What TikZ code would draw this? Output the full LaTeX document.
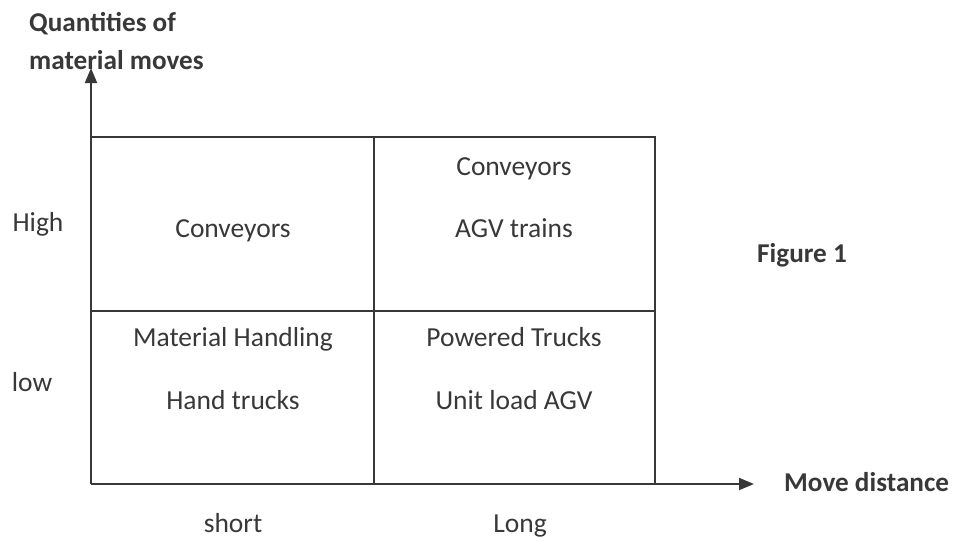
\documentclass[tikz,border=0pt]{standalone}
\usepackage{fontspec}
\setmainfont{Carlito}
\usetikzlibrary{arrows.meta}
\definecolor{ink}{HTML}{383838}
\begin{document}
\begin{tikzpicture}[x=1pt,y=-1pt,
  lbl/.style={text=ink,font=\fontsize{27.5}{31}\selectfont,anchor=base,inner sep=0pt},
  blbl/.style={lbl,font=\fontsize{27.2}{31}\selectfont\bfseries},
  gridline/.style={draw=ink,line width=1.8pt},
  axis/.style={draw=ink,line width=1.8pt,-{Triangle[length=15pt,width=12pt]}}]
\useasboundingbox (0,0) rectangle (955,541);
% grid
\coordinate (o) at (91,484);
\coordinate (ytip) at (91,68);
\coordinate (xtip) at (754,484);
\coordinate (tl) at (91,137);
\coordinate (tr) at (655,137);
\coordinate (br) at (655,484);
\coordinate (tm) at (374,137);
\coordinate (bm) at (374,484);
\coordinate (ml) at (91,311);
\coordinate (mr) at (655,311);
\draw[gridline] (tl) -- (tr) -- (br);
\draw[gridline] (tm) -- (bm);
\draw[gridline] (ml) -- (mr);
\draw[axis] (o) -- (ytip);
\draw[axis] (o) -- (xtip);
% labels
\node[blbl,anchor=base west] (q1) at (29,31) {Quantities of};
\node[blbl,anchor=base west] (q2) at (29,69) {material moves};
\node[lbl] (high) at (38,231) {High};
\node[lbl] (low) at (32,391) {low};
\node[lbl] (c1) at (233,237) {Conveyors};
\node[lbl] (c2) at (514,175) {Conveyors};
\node[lbl] (agv) at (514,237) {AGV trains};
\node[lbl] (mh) at (233,346) {Material Handling};
\node[lbl] (ht) at (233,409) {Hand trucks};
\node[lbl] (pt) at (514,346) {Powered Trucks};
\node[lbl] (ul) at (514,409) {Unit load AGV};
\node[blbl] (fig) at (802,262) {Figure 1};
\node[blbl,anchor=base west] (md) at (784,491) {Move distance};
\node[lbl] (short) at (233,532) {short};
\node[lbl] (long) at (520,532) {Long};
\end{tikzpicture}
\end{document}
